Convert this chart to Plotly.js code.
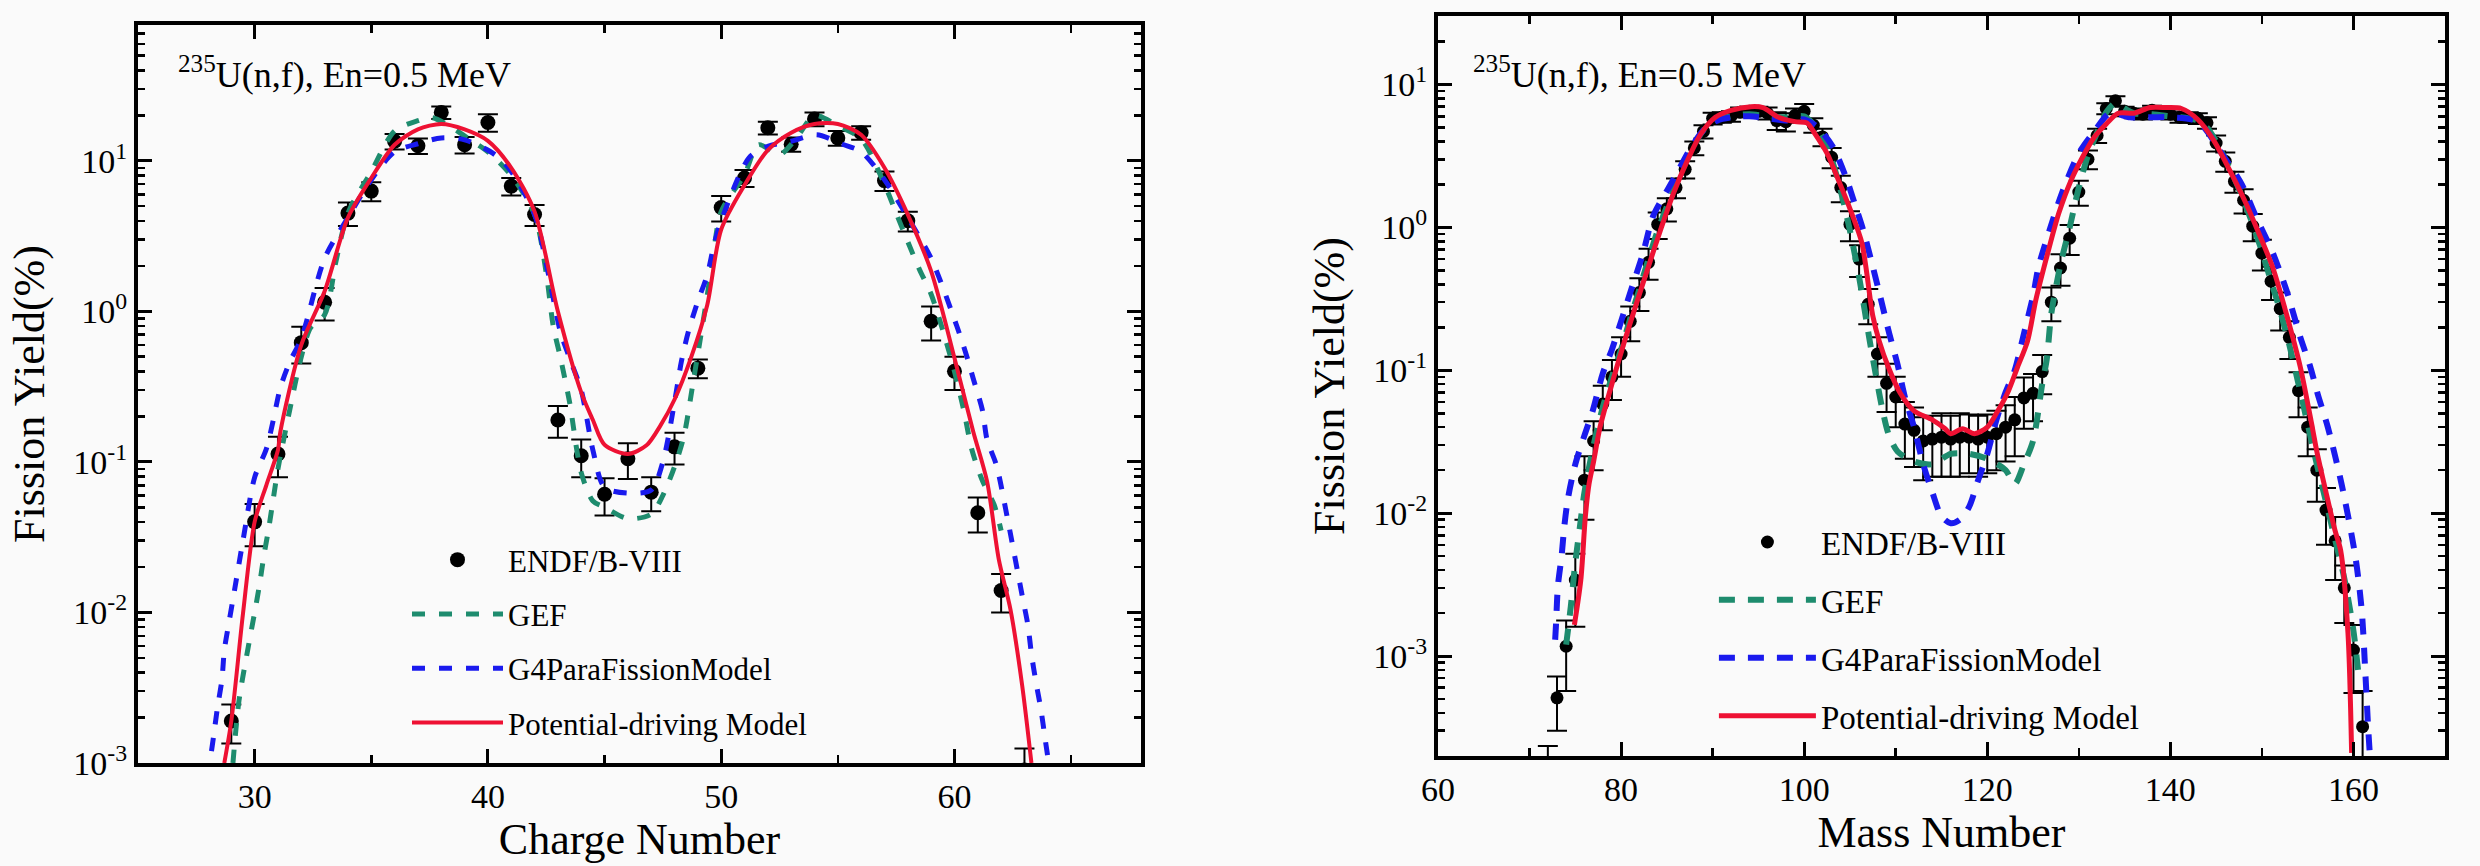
<!DOCTYPE html>
<html><head><meta charset="utf-8">
<script src="https://cdn.plot.ly/plotly-3.0.1.min.js"></script>
<style>html,body{margin:0;padding:0;background:#fafafa}</style>
</head><body><div id="chart" style="width:2480px;height:866px"></div>
<script>
// ---------- Left panel: charge distribution ----------
const zEndf = [29,30,31,32,33,34,35,36,37,38,39,40,41,42,43,44,45,46,47,48,49,50,51,52,53,54,55,56,57,58,59,60,61,62,63];
const yEndfZ = [0.0019,0.040,0.113,0.62,1.15,4.5,6.3,13.5,12.6,21,12.8,18,6.8,4.4,0.19,0.11,0.061,0.105,0.063,0.126,0.42,4.9,7.7,16.6,12.9,19,14.2,15.4,7.4,4.0,0.86,0.40,0.046,0.014,0.0009];
const eEndfZ = [0.00055,0.0125,0.034,0.17,0.28,0.8,0.9,1.6,1.5,2.0,1.6,2.4,0.9,0.7,0.045,0.031,0.017,0.028,0.016,0.03,0.06,0.95,1.0,1.6,1.4,2.0,1.6,1.6,1.1,0.6,0.22,0.1,0.012,0.004,0.00035];

const zGef = [29.07,29.33,29.76,30.0,30.2,30.4,30.6,30.8,31.0,31.5,32.0,32.4,33.0,33.5,34.0,35.0,36.0,37.0,37.6,38.5,39.3,40.0,41.0,42.0,42.5,42.8,43.1,43.5,44.0,44.5,45.0,46.0,47.0,47.5,48.0,48.4,48.8,49.2,49.6,50.0,51.0,51.6,52.5,53.2,54.0,55.0,56.0,57.0,57.5,58.0,58.5,59.0,59.5,60.0,60.4,60.75,61.2,61.7,62.0];
const yGefZ = [0.001,0.0026,0.0063,0.01,0.015,0.024,0.036,0.057,0.09,0.22,0.5,0.78,0.95,2.2,4.5,8.5,15.8,18.5,19.4,16.5,13.6,11.5,8.0,4.4,1.8,0.8,0.5,0.25,0.085,0.055,0.05,0.042,0.045,0.06,0.093,0.148,0.34,0.81,2.0,4.6,8.1,12.8,11.0,14,20,17.1,14.0,7.0,4.5,2.9,1.9,1.3,0.75,0.4,0.22,0.12,0.075,0.052,0.035];

const zG4 = [28.15,28.24,28.4,28.6,28.7,28.9,29.1,29.5,30.0,30.5,30.8,31.1,31.5,32.0,33.0,34.0,35.0,36.0,37.0,38.0,39.0,40.3,41.0,42.0,42.6,43.1,43.5,44.0,44.5,45.0,46.0,47.0,47.5,48.0,48.3,48.6,49.0,49.4,49.7,50.0,51.2,52.0,53.0,54.1,55.2,56.0,57.0,58.0,59.0,60.1,60.5,60.8,61.2,61.4,61.8,62.3,62.9,63.15,63.3,63.5,63.7,63.9,64.0];
const yG4Z = [0.0012,0.0015,0.0023,0.0036,0.0056,0.0086,0.013,0.03,0.079,0.122,0.19,0.31,0.46,0.66,2.25,4.2,7.5,11.5,13.0,14.2,13.8,11.0,8.5,4.4,1.75,0.74,0.49,0.3,0.12,0.068,0.062,0.065,0.1,0.25,0.47,0.74,1.17,1.74,2.8,4.0,10.5,12.5,13.5,14.9,12.9,11.5,7.5,4.2,2.25,0.8,0.52,0.36,0.22,0.14,0.095,0.04,0.013,0.0082,0.0053,0.0034,0.0023,0.0014,0.0011];

const zPot = [28.7,29.0,29.5,30.0,30.5,31.0,31.1,32.0,33.0,34.0,35.0,36.0,37.0,38.0,39.0,40.0,41.0,42.0,43.0,44.0,44.5,45.0,46.0,46.8,47.4,48.0,48.7,49.4,50.0,51.0,52.0,53.0,54.0,55.0,56.0,57.0,58.0,59.0,60.0,60.8,61.4,61.9,62.4,62.9,63.3];
const yPotZ = [0.001,0.0019,0.0098,0.040,0.07,0.12,0.158,0.6,1.36,4.2,7.7,12.8,16.2,17.6,16.2,13.6,9.0,4.6,1.0,0.29,0.19,0.13,0.113,0.129,0.175,0.26,0.49,1.1,3.5,6.9,11.8,15.4,17.6,17.6,14.9,9.0,4.4,1.85,0.49,0.16,0.074,0.0225,0.0105,0.0033,0.001];

// ---------- Right panel: mass distribution ----------
const aEndf = [72,73,74,75,76,77,78,79,80,81,82,83,84,85,86,87,88,89,90,91,92,93,94,95,96,97,98,99,100,101,102,103,104,105,106,107,108,109,110,111,112,113,114,115,116,117,118,119,120,121,122,123,124,125,126,127,128,129,130,131,132,133,134,135,136,137,138,139,140,141,142,143,144,145,146,147,148,149,150,151,152,153,154,155,156,157,158,159,160,161];
const yEndfA = [0.00012,0.00051,0.00117,0.0034,0.017,0.032,0.058,0.09,0.13,0.22,0.35,0.57,1.05,1.35,1.9,2.55,3.6,4.7,5.8,5.9,6.0,6.4,6.5,6.5,6.3,5.6,5.5,6.1,6.5,5.2,4.3,3.1,1.9,1.05,0.6,0.29,0.13,0.081,0.065,0.042,0.038,0.032,0.033,0.034,0.033,0.034,0.034,0.033,0.034,0.036,0.040,0.045,0.064,0.069,0.098,0.30,0.52,0.84,1.77,3.0,4.4,6.8,7.7,6.5,6.3,6.2,6.6,6.4,6.2,5.9,5.9,5.8,5.4,3.9,2.9,2.1,1.55,1.02,0.66,0.42,0.27,0.17,0.072,0.040,0.020,0.0105,0.0064,0.0030,0.0011,0.00032];
const eEndfA = [0.000114,0.00021,0.0006,0.0018,0.008,0.012,0.02,0.028,0.04,0.06,0.09,0.14,0.22,0.25,0.3,0.35,0.4,0.5,0.55,0.5,0.5,0.5,0.5,0.5,0.6,0.8,0.8,0.7,0.8,0.6,0.6,0.5,0.4,0.25,0.15,0.08,0.04,0.03,0.025,0.018,0.017,0.015,0.015,0.016,0.015,0.016,0.015,0.015,0.015,0.016,0.017,0.02,0.025,0.025,0.03,0.08,0.13,0.2,0.35,0.45,0.5,0.6,0.6,0.5,0.5,0.5,0.5,0.5,0.5,0.5,0.5,0.5,0.5,0.5,0.45,0.35,0.3,0.22,0.16,0.11,0.08,0.05,0.025,0.015,0.008,0.0045,0.003,0.0013,0.00055,0.00025];

const aGef = [74.0,74.5,75.0,75.5,76.0,77.0,78.0,79.0,80.0,81.0,82.0,83.0,84.0,85.0,86.0,87.0,88.0,89.0,90.0,92.0,94.0,96.0,98.0,100.0,101.0,102.0,103.0,104.0,105.0,106.0,107.2,107.8,108.5,109.2,110.2,112.0,114.0,116.0,118.0,120.0,122.0,123.0,124.0,125.0,126.0,126.5,127.0,128.0,129.0,130.0,131.0,132.0,133.0,134.0,135.0,136.0,138.0,140.0,142.0,143.0,144.0,145.0,146.0,147.0,148.0,149.0,150.0,151.0,152.0,153.0,154.0,155.0,156.0,157.0,158.0,159.0,160.0,160.5];
const yGefA = [0.0012,0.0022,0.0045,0.008,0.014,0.03,0.055,0.09,0.14,0.23,0.37,0.6,0.95,1.4,2.0,2.8,3.8,4.8,5.5,6.0,6.2,6.0,5.9,6.0,5.3,4.3,3.0,1.8,0.95,0.45,0.155,0.095,0.055,0.036,0.027,0.023,0.022,0.026,0.026,0.024,0.02,0.016,0.022,0.032,0.08,0.12,0.25,0.55,1.0,1.9,3.2,4.6,6.4,7.4,6.8,6.3,6.2,6.0,5.8,5.6,5.0,4.0,3.0,2.2,1.55,1.05,0.68,0.42,0.26,0.15,0.08,0.042,0.022,0.012,0.0065,0.0035,0.0015,0.0008];

const aG4 = [72.8,72.9,73.1,73.5,73.8,74.2,75.0,76.0,76.9,78.0,79.0,80.0,81.0,82.4,83.5,85.0,86.1,87.5,89.0,90.5,92.0,94.0,96.0,98.0,100.0,101.5,103.1,104.5,105.7,106.4,107.5,108.3,109.3,110.2,111.0,112.0,113.0,114.0,115.0,116.0,117.0,118.0,119.0,120.0,121.0,122.0,123.0,124.0,125.0,125.6,126.9,128.2,130.0,131.7,133.4,135.6,138.0,140.0,143.0,145.6,147.8,149.4,151.2,152.7,154.2,155.3,156.1,157.2,158.7,160.2,160.9,161.3,161.6,161.8];
const yG4A = [0.0013,0.0017,0.0031,0.005,0.0081,0.0127,0.022,0.035,0.052,0.095,0.14,0.22,0.35,0.66,1.2,1.8,2.4,3.5,4.8,5.6,5.9,6.0,5.8,5.6,5.7,5.0,3.7,2.3,1.35,0.98,0.53,0.33,0.18,0.11,0.065,0.04,0.022,0.014,0.0095,0.0085,0.009,0.011,0.017,0.026,0.045,0.07,0.1,0.18,0.33,0.53,1.0,1.77,3.3,4.7,6.3,5.9,5.9,5.9,5.5,3.3,2.0,1.17,0.66,0.36,0.17,0.105,0.068,0.04,0.016,0.005,0.0021,0.00076,0.00032,0.0002];

const aPot = [74.9,75.6,76.1,76.5,77.0,77.7,79.2,80.5,81.8,83.1,84.4,85.7,87.2,88.7,90.3,92.0,94.2,95.5,97.2,99.0,100.3,101.2,102.5,103.8,105.1,106.3,107.5,108.2,109.2,110.5,112.0,114.0,115.4,116.0,117.3,118.6,120.0,121.0,122.2,123.3,124.4,125.3,126.6,127.8,129.1,130.4,131.7,133.0,134.3,136.0,137.8,139.5,141.2,143.0,144.7,146.5,148.1,149.4,151.2,152.9,154.2,155.5,156.0,157.0,158.0,158.6,159.4,159.8];
const yPotA = [0.00165,0.0034,0.0095,0.016,0.023,0.04,0.089,0.17,0.31,0.56,1.0,1.72,2.9,4.5,5.9,6.6,7.0,6.9,5.9,5.5,5.4,4.5,3.3,2.1,1.3,0.78,0.24,0.16,0.105,0.069,0.052,0.045,0.039,0.036,0.039,0.036,0.04,0.05,0.069,0.105,0.16,0.31,0.66,1.25,2.1,3.1,4.3,5.3,6.3,6.3,6.9,6.9,6.8,5.7,4.1,2.5,1.55,1.0,0.52,0.22,0.105,0.04,0.027,0.014,0.0075,0.0055,0.00145,0.00021];

const yTickVals = [0.001,0.01,0.1,1,10];
const yTickText = ['10<sup>-3</sup>','10<sup>-2</sup>','10<sup>-1</sup>','10<sup>0</sup>','10<sup>1</sup>'];
const legendNames = ['ENDF/B-VIII','GEF','G4ParaFissionModel','Potential-driving Model'];
const annText = '<sup>235</sup>U(n,f), En=0.5 MeV';

// ---------- styling ----------
const FONT = 'Liberation Serif, Times New Roman, serif';
const GEFC = '#1e8c6e', G4C = '#1a1aee', POTC = '#ee1133';
function minorLog(lo, hi){ const v=[]; for(let p=lo;p<=hi;p++){ for(let m=2;m<=9;m++){ v.push(m*Math.pow(10,p)); } } return v; }

const traces = [
  {x:zEndf, y:yEndfZ, type:'scatter', mode:'markers', name:legendNames[0], legend:'legend', legendgroup:'l1',
   marker:{color:'#000', size:15}, error_y:{type:'data', array:eEndfZ, visible:true, color:'#000', thickness:2, width:10}, xaxis:'x', yaxis:'y'},
  {x:zGef, y:yGefZ, type:'scatter', mode:'lines', name:legendNames[1], legend:'legend', legendgroup:'l2',
   line:{color:GEFC, width:5, dash:'13px,14px', shape:'spline', smoothing:0.8}, xaxis:'x', yaxis:'y'},
  {x:zG4, y:yG4Z, type:'scatter', mode:'lines', name:legendNames[2], legend:'legend', legendgroup:'l3',
   line:{color:G4C, width:5, dash:'13px,14px', shape:'spline', smoothing:0.8}, xaxis:'x', yaxis:'y'},
  {x:zPot, y:yPotZ, type:'scatter', mode:'lines', name:legendNames[3], legend:'legend', legendgroup:'l4',
   line:{color:POTC, width:4, shape:'spline', smoothing:0.8}, xaxis:'x', yaxis:'y'},

  {x:aEndf, y:yEndfA, type:'scatter', mode:'markers', name:legendNames[0], legend:'legend2', legendgroup:'r1',
   marker:{color:'#000', size:13}, error_y:{type:'data', array:eEndfA, visible:true, color:'#000', thickness:2, width:10}, xaxis:'x2', yaxis:'y2'},
  {x:aGef, y:yGefA, type:'scatter', mode:'lines', name:legendNames[1], legend:'legend2', legendgroup:'r2',
   line:{color:GEFC, width:6, dash:'16px,13px', shape:'spline', smoothing:0.8}, xaxis:'x2', yaxis:'y2'},
  {x:aG4, y:yG4A, type:'scatter', mode:'lines', name:legendNames[2], legend:'legend2', legendgroup:'r3',
   line:{color:G4C, width:6, dash:'16px,13px', shape:'spline', smoothing:0.8}, xaxis:'x2', yaxis:'y2'},
  {x:aPot, y:yPotA, type:'scatter', mode:'lines', name:legendNames[3], legend:'legend2', legendgroup:'r4',
   line:{color:POTC, width:5, shape:'spline', smoothing:0.8}, xaxis:'x2', yaxis:'y2'}
];

const axBase = {showline:true, linecolor:'#000', linewidth:4, mirror:'ticks', ticks:'inside', ticklen:14, tickwidth:3,
  tickcolor:'#000', showgrid:false, zeroline:false, tickfont:{family:FONT, size:34, color:'#000'}};

const layout = {
  width:2480, height:866,
  margin:{l:138, r:35, t:16, b:103},
  paper_bgcolor:'#fafafa', plot_bgcolor:'#fafafa',
  font:{family:FONT, color:'#000'},
  showlegend:true,
  xaxis:Object.assign({}, axBase, {domain:[0,0.4348], anchor:'y', range:[25,68], tick0:0, dtick:10,
    minor:{dtick:5, ticks:'inside', ticklen:8, tickwidth:2.5, tickcolor:'#000'},
    title:{text:'Charge Number', font:{family:FONT, size:44, color:'#000'}, standoff:10}}),
  yaxis:Object.assign({}, axBase, {domain:[0,0.988], anchor:'x', type:'log', range:[-3,1.903],
    tickmode:'array', tickvals:yTickVals, ticktext:yTickText,
    minor:{tickmode:'array', tickvals:minorLog(-3,1), ticks:'inside', ticklen:7, tickwidth:2.5, tickcolor:'#000'},
    title:{text:'Fission Yield(%)', font:{family:FONT, size:44, color:'#000'}, standoff:16}}),
  xaxis2:Object.assign({}, axBase, {domain:[0.5635,1], anchor:'y2', range:[60,170], tick0:0, dtick:20,
    minor:{dtick:10, ticks:'inside', ticklen:8, tickwidth:2.5, tickcolor:'#000'},
    title:{text:'Mass Number', font:{family:FONT, size:44, color:'#000'}, standoff:10}}),
  yaxis2:Object.assign({}, axBase, {domain:[0.00937,1], anchor:'x2', type:'log', range:[-3.7,1.48],
    tickmode:'array', tickvals:yTickVals, ticktext:yTickText,
    minor:{tickmode:'array', tickvals:minorLog(-4,1), ticks:'inside', ticklen:7, tickwidth:2.5, tickcolor:'#000'},
    title:{text:'Fission Yield(%)', font:{family:FONT, size:44, color:'#000'}, standoff:16}}),
  legend:{x:0.1166, y:0.3079, xanchor:'left', yanchor:'top', bgcolor:'rgba(0,0,0,0)', borderwidth:0,
    font:{family:FONT, size:31, color:'#000'}, itemwidth:91, traceorder:'grouped', tracegroupgap:11},
  legend2:{x:0.6831, y:0.3333, xanchor:'left', yanchor:'top', bgcolor:'rgba(0,0,0,0)', borderwidth:0,
    font:{family:FONT, size:33, color:'#000'}, itemwidth:97, traceorder:'grouped', tracegroupgap:12},
  annotations:[
    {xref:'paper', yref:'paper', x:0.0165, y:0.925, xanchor:'left', yanchor:'middle', showarrow:false,
     text:annText, font:{family:FONT, size:36, color:'#000'}},
    {xref:'paper', yref:'paper', x:0.5778, y:0.9237, xanchor:'left', yanchor:'middle', showarrow:false,
     text:annText, font:{family:FONT, size:36, color:'#000'}}
  ]
};

Plotly.newPlot('chart', traces, layout, {displayModeBar:false, staticPlot:true});
</script></body></html>
